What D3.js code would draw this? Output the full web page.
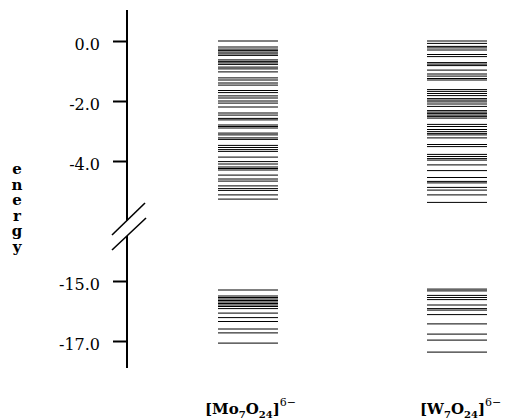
<!DOCTYPE html>
<html><head><meta charset="utf-8">
<script src="https://cdn.jsdelivr.net/npm/d3@7"></script>
<style>html,body{margin:0;padding:0;background:#fff;}svg{display:block;}</style>
</head><body>
<svg id="chart" width="516" height="420"></svg>
<script>
// Data
const categories = ["Mo", "W"];
const moLevels = [0.00,-0.20,-0.27,-0.32,-0.37,-0.43,-0.48,-0.63,-0.68,-0.73,-0.78,-0.87,-0.93,-1.03,-1.23,-1.30,-1.40,-1.47,-1.65,-1.72,-1.83,-1.90,-2.00,-2.07,-2.20,-2.40,-2.47,-2.58,-2.63,-2.80,-2.85,-2.90,-3.07,-3.13,-3.23,-3.28,-3.48,-3.55,-3.62,-3.68,-3.87,-4.02,-4.10,-4.20,-4.25,-4.30,-4.47,-4.60,-4.67,-4.83,-4.92,-4.98,-5.13,-5.27,
  -15.30,-15.50,-15.55,-15.60,-15.65,-15.70,-15.75,-15.80,-15.85,-15.92,-16.07,-16.22,-16.35,-16.60,-16.73,-17.07];
const wLevels = [0.00,-0.08,-0.18,-0.23,-0.30,-0.45,-0.52,-0.72,-0.77,-0.82,-0.97,-1.10,-1.17,-1.25,-1.30,-1.62,-1.68,-1.75,-1.82,-1.92,-1.97,-2.03,-2.10,-2.18,-2.32,-2.37,-2.42,-2.47,-2.52,-2.57,-2.78,-2.85,-2.95,-3.02,-3.08,-3.13,-3.23,-3.45,-3.52,-3.78,-3.85,-3.92,-3.97,-4.13,-4.32,-4.55,-4.68,-4.73,-4.88,-4.97,-5.13,-5.38,
  -15.27,-15.33,-15.48,-15.55,-15.62,-15.80,-15.92,-15.97,-16.12,-16.43,-16.77,-16.97,-17.37];
const upperTicks = [0, -2, -4];
const lowerTicks = [-15, -17];
const axisTitle = "energy";

const svg = d3.select("#chart");
const font = "'DejaVu Serif', serif";

const yUpper = d3.scaleLinear().domain([0, -4]).range([41, 161]);
const yLower = d3.scaleLinear().domain([-15, -17]).range([281, 341]);
const yOf = e => e > -10 ? yUpper(e) : yLower(e);

const x = d3.scaleBand().domain(categories).range([218, 487]).paddingInner(0.713);

const axisX = 127;
const fmt = d => d.toFixed(1);

function drawAxis(scale, ticks) {
  const g = svg.append("g").attr("transform", `translate(${axisX},0)`)
    .call(d3.axisLeft(scale).tickValues(ticks).tickFormat(fmt).tickSize(14).tickPadding(13));
  g.select(".domain").remove();
  g.selectAll(".tick line").attr("stroke", "#000").attr("stroke-width", 2);
  g.selectAll(".tick text").attr("font-family", font).attr("font-size", 16)
    .attr("fill", "#000").attr("dy", "0.55em");
}
drawAxis(yUpper, upperTicks);
drawAxis(yLower, lowerTicks);

// axis line with break
const ax = svg.append("g").attr("stroke", "#000").attr("stroke-width", 2);
ax.append("line").attr("x1", axisX).attr("x2", axisX).attr("y1", 10).attr("y2", 220.5);
ax.append("line").attr("x1", axisX).attr("x2", axisX).attr("y1", 236).attr("y2", 368);
const br = svg.append("g").attr("stroke", "#000").attr("stroke-width", 1.6);
br.append("line").attr("x1", 112).attr("y1", 235).attr("x2", 145).attr("y2", 203);
br.append("line").attr("x1", 112).attr("y1", 250).attr("x2", 146).attr("y2", 218);

// levels
const series = [{k: "Mo", v: moLevels}, {k: "W", v: wLevels}];
series.forEach(s => {
  svg.append("g").selectAll("line").data(s.v).join("line")
    .attr("x1", x(s.k)).attr("x2", x(s.k) + x.bandwidth())
    .attr("y1", d => yOf(d)).attr("y2", d => yOf(d))
    .attr("stroke", "#000").attr("stroke-width", 1);
});

// axis title: stacked upright letters
svg.append("text").attr("x", 17).attr("y", 160)
  .attr("font-family", font).attr("font-size", 15).attr("font-weight", "bold")
  .attr("fill", "#000")
  .style("writing-mode", "vertical-rl").style("text-orientation", "upright")
  .style("letter-spacing", "-2.4px")
  .text(axisTitle);

// category labels
function label(xPos, el) {
  const tx = svg.append("text").attr("x", xPos).attr("y", 414)
    .attr("font-family", font).attr("font-size", 15).attr("fill", "#000");
  tx.append("tspan").attr("font-weight", "bold").text("[" + el);
  tx.append("tspan").attr("font-size", 10).attr("font-weight", "bold").attr("dy", 4).text("7");
  tx.append("tspan").attr("font-weight", "bold").attr("dy", -4).text("O");
  tx.append("tspan").attr("font-size", 10).attr("font-weight", "bold").attr("dy", 4).text("24");
  tx.append("tspan").attr("font-weight", "bold").attr("dy", -4).text("]");
  tx.append("tspan").attr("font-size", 11).attr("dy", -8).text("6−");
}
label(205, "Mo");
label(420, "W");
</script>
</body></html>
